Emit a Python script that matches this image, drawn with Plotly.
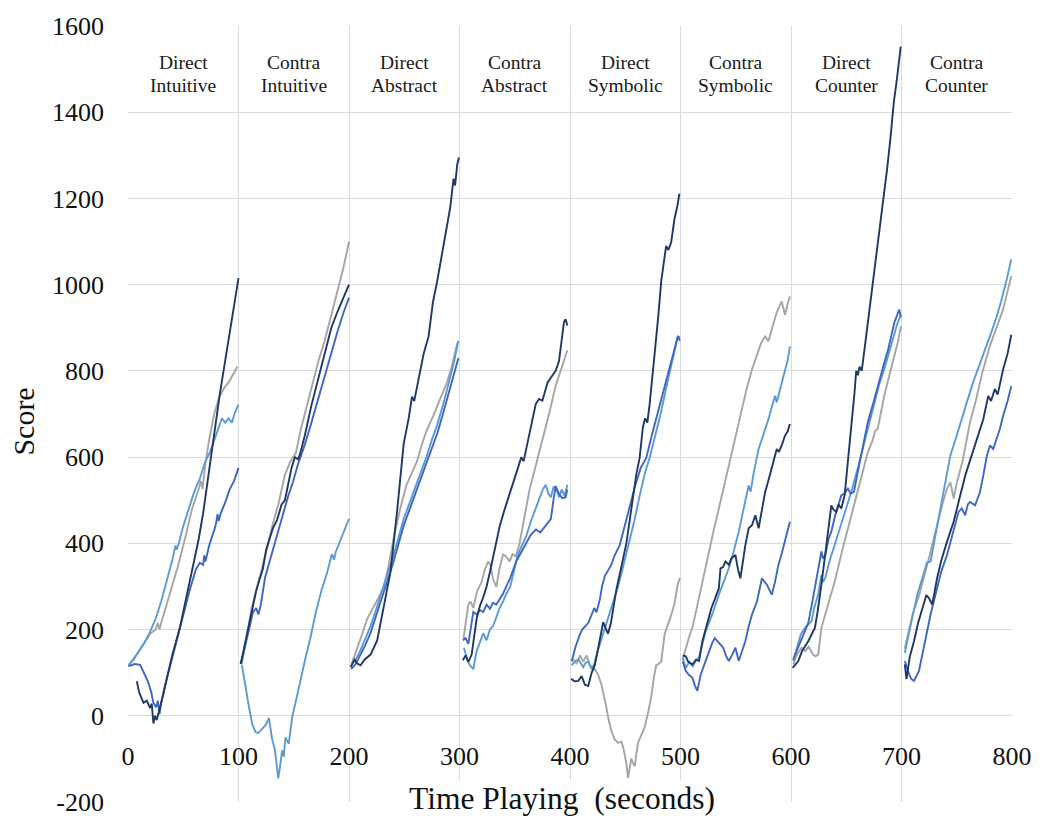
import plotly.graph_objects as go

# ---------------- data (time in seconds, score) ----------------
PANEL_TOP = ["Direct", "Contra", "Direct", "Contra", "Direct", "Contra", "Direct", "Contra"]
PANEL_BOTTOM = ["Intuitive", "Intuitive", "Abstract", "Abstract", "Symbolic", "Symbolic", "Counter", "Counter"]
X_TICKS = [0, 100, 200, 300, 400, 500, 600, 700, 800]
Y_TICKS = [-200, 0, 200, 400, 600, 800, 1000, 1200, 1400, 1600]

NAVY_T = [
    [8, 10, 14, 17, 20, 21.5, 23, 24.5, 26, 29, 32, 35, 40, 47, 53, 59, 64, 68, 72, 77, 80, 83, 87, 91, 95, 98, 100],
    [102, 106, 110, 113, 116, 119, 122, 125, 128, 131, 135, 139, 142, 145, 148, 151, 154, 156, 160, 166, 172, 178, 184, 190, 195, 200],
    [201.5, 205, 207.5, 210.5, 214, 219.5, 225.5, 231.5, 237.5, 243.5, 249.5, 254, 257, 259, 262, 267.5, 272, 276, 279.6, 285.6, 291.6, 294.6, 296, 298, 299.5],
    [303, 305.5, 308, 311, 315.5, 318.5, 321.5, 324.5, 327.5, 332, 336.5, 341, 345.4, 350, 354.3, 356, 358, 363.3, 369, 372, 375, 379.7, 384, 387, 390, 392.5, 394.6, 396, 397.6],
    [401, 404, 407.5, 410.5, 413.5, 416.5, 419.5, 422.5, 425, 428, 430, 432, 434.4, 437, 442, 446, 451, 455.5, 460, 463, 466, 468, 470, 472, 474.5, 476.6, 480, 482.6, 487, 489, 491.6, 494.6, 497, 499],
    [502, 504.8, 507, 510.8, 514, 516.8, 519.8, 524, 528, 531, 534.7, 536.2, 538.5, 540.7, 543.7, 546, 549.7, 552, 554.2, 558.7, 561.7, 564.7, 567.7, 570.7, 573.5, 576.6, 579.5, 582.6, 587.1, 589, 591.6, 594.6, 597, 599],
    [601.5, 604, 606.6, 610, 615.6, 621.6, 624, 627.5, 630.5, 633.5, 636.5, 638.5, 641, 643, 645.5, 648.5, 651.5, 654.5, 657.5, 659, 660.5, 662, 664, 667, 671, 675, 679, 683, 687, 690, 693, 696, 698, 699.3],
    [703, 704.5, 707.5, 711.3, 715, 720.3, 722.5, 724.8, 727.8, 732.2, 736, 741.2, 747.2, 753.1, 758, 763, 768, 774, 778.5, 781, 784.5, 787, 792, 796, 799.4],
]
NAVY_V = [
    [80, 55, 30, 35, 18, 28, -18, 0, -10, 19, 50, 85, 140, 205, 280, 347, 410, 470, 540, 629, 690, 745, 810, 880, 940, 985, 1015],
    [120, 170, 215, 250, 290, 316, 340, 385, 410, 434, 455, 490, 500, 540, 575, 600, 595, 610, 650, 720, 780, 840, 900, 940, 970, 1000],
    [113, 130, 121, 117, 130, 142, 175, 250, 333, 474, 631, 690, 740, 730, 770, 839, 880, 960, 1005, 1096, 1179, 1246, 1230, 1280, 1295],
    [129, 140, 125, 142, 225, 255, 275, 300, 333, 390, 441, 480, 515, 550, 582, 600, 590, 657, 723, 735, 731, 773, 789, 800, 822, 880, 914, 920, 905],
    [86, 80, 81, 92, 72, 69, 99, 118, 150, 190, 217, 205, 190, 215, 293, 340, 400, 480, 560, 598, 670, 690, 680, 721, 781, 840, 930, 1009, 1090, 1080, 1099, 1153, 1180, 1211],
    [140, 138, 125, 119, 130, 127, 173, 215, 250, 270, 296, 342, 345, 358, 350, 365, 373, 340, 319, 396, 435, 442, 465, 435, 480, 519, 545, 573, 619, 612, 627, 650, 660, 677],
    [111, 120, 127, 150, 173, 204, 240, 304, 370, 434, 488, 478, 473, 490, 481, 511, 588, 670, 750, 800, 790, 810, 800, 860, 940, 1017, 1100, 1190, 1269, 1340, 1422, 1480, 1530, 1552],
    [119, 85, 137, 173, 215, 265, 280, 273, 258, 319, 360, 404, 450, 511, 560, 600, 640, 688, 742, 730, 758, 745, 804, 840, 884],
]

MEDIUM_T = [
    [1, 6, 11, 15, 18, 21, 23, 25.5, 27, 28.5, 30, 33, 36, 41, 47, 52.5, 56, 61.5, 65, 68, 69, 70, 74, 78, 80, 81, 82, 84, 88, 92, 96, 100],
    [102, 106, 110, 113, 116, 118, 120, 124, 128, 132, 136, 140, 145, 149, 154, 160, 166, 172, 178, 184, 190, 195, 200],
    [202, 206, 210, 214, 219.5, 225, 230, 235, 240, 245, 249.5, 255, 260, 265, 270, 275, 280, 285, 290, 295, 299],
    [303, 305.5, 308, 310, 312.5, 315.5, 318.5, 321.5, 324.5, 327.5, 330.4, 333.4, 336.4, 339.4, 342.4, 346, 351.3, 356, 360.3, 364.5, 369.2, 373, 378, 382.7, 385, 387, 390, 393, 396, 397.6],
    [401.5, 405, 409, 411, 413.5, 416.5, 419.5, 422, 424, 427, 429, 431.5, 434, 437.5, 440, 445, 449.5, 454, 458.6, 464, 469, 474, 480, 486, 492, 497.6, 499.5],
    [502, 504.8, 507.5, 510.8, 513, 515.3, 518.3, 522.7, 526, 528.7, 531, 533.2, 536, 538.7, 541, 543.7, 546.5, 549.7, 552.7, 555.5, 558.7, 561.5, 564.7, 569.2, 573.7, 578.2, 582.6, 585.5, 588.6, 591.5, 594.6, 597, 599],
    [602, 605, 609.6, 612, 615.6, 619, 623, 625, 627.5, 629, 631, 634, 636.5, 640, 643, 645.5, 648, 651.5, 654, 657, 660, 665, 669.5, 675, 680, 684.4, 688, 693.4, 697.9, 699.5],
    [703, 706.9, 709, 711.3, 715.8, 720.3, 726.3, 732.2, 736, 741.2, 747.2, 751.6, 754.6, 757.6, 760, 762, 766.6, 771, 774, 777, 780, 783, 786, 789, 792, 796, 799.4],
]
MEDIUM_V = [
    [115, 120, 118, 95, 80, 55, 30, 20, 35, 4, 30, 65, 95, 150, 205, 265, 293, 340, 355, 350, 372, 358, 400, 430, 450, 468, 452, 470, 495, 525, 545, 575],
    [120, 160, 205, 240, 250, 235, 255, 320, 355, 395, 430, 465, 510, 540, 585, 629, 680, 735, 788, 840, 895, 935, 970],
    [108, 120, 140, 160, 192, 235, 275, 315, 355, 400, 441, 480, 515, 550, 585, 620, 656, 700, 745, 790, 830],
    [175, 180, 167, 200, 241, 235, 245, 241, 258, 248, 262, 258, 270, 283, 300, 320, 358, 380, 399, 420, 432, 425, 441, 457, 500, 532, 515, 505, 507, 525],
    [126, 160, 189, 200, 207, 215, 234, 250, 240, 270, 300, 324, 335, 351, 370, 396, 440, 485, 530, 575, 598, 650, 710, 770, 830, 880, 870],
    [126, 104, 95, 88, 70, 58, 96, 127, 150, 169, 180, 173, 165, 158, 140, 127, 140, 158, 127, 150, 173, 205, 235, 265, 319, 304, 281, 310, 350, 375, 404, 425, 450],
    [131, 150, 181, 195, 215, 260, 311, 345, 381, 365, 372, 410, 427, 465, 490, 511, 515, 527, 515, 520, 560, 620, 681, 730, 780, 819, 850, 911, 942, 925],
    [127, 96, 85, 81, 104, 158, 235, 296, 335, 373, 434, 473, 481, 465, 490, 496, 488, 519, 557, 600, 627, 619, 642, 665, 696, 730, 765],
]

LIGHT_T = [
    [0, 5, 10, 15, 20, 25, 30, 35, 40, 43, 44, 46, 50, 55, 60, 65, 70, 74, 78, 82, 85, 88, 91, 94, 97, 100],
    [103, 106, 109.5, 112.5, 115.5, 118, 121.5, 125, 127.5, 130.5, 133, 136, 138, 139.5, 141, 142.5, 145.5, 148.5, 152, 156, 160.5, 165, 170, 175, 180, 184.5, 186.5, 188, 192, 196, 200],
    [202, 206, 210, 214, 219.5, 225, 230, 234.5, 240, 245, 249.5, 255, 260, 264.5, 270, 275, 279.6, 285, 290, 295, 299],
    [304, 307, 309.5, 312.5, 315.5, 318.5, 321.5, 324.5, 327.5, 330.4, 333.4, 336.4, 339.4, 342.4, 346, 349, 352.8, 356.5, 360.3, 364.5, 369.2, 372, 375.2, 378, 380.5, 382.7, 385, 387, 390.1, 392.5, 395, 397.6],
    [401.5, 404, 407.5, 410, 412, 414, 416.5, 419.5, 422, 425, 430, 435, 440, 443.5, 448, 453, 458, 463, 468, 472, 477, 482, 487, 492, 497.6, 499.5],
    [502, 504.8, 508, 511, 514, 516.8, 522.7, 528.7, 534.7, 539, 543.7, 548, 553, 557.5, 561.7, 563.5, 566, 570.7, 575, 579.6, 583, 585.6, 587.1, 591, 594.6, 597, 599],
    [602, 606, 609, 613, 618.6, 621, 624.6, 627.5, 629, 631, 635, 639.5, 645, 650, 654.5, 660, 665, 669.5, 675, 680, 684.4, 690, 696.4, 699.5],
    [703, 706, 709, 714.3, 720.3, 723, 726.3, 730, 735.2, 740, 744.2, 750, 755, 759.1, 765, 770, 774, 780, 786, 790, 795, 799.4],
]
LIGHT_V = [
    [115, 130, 150, 170, 195, 225, 265, 310, 360, 395, 385, 400, 440, 480, 520, 550, 590, 610, 640, 665, 690, 680, 690, 680, 705, 722],
    [118, 70, 20, -20, -38, -40, -30, -20, -5, -55, -80, -145, -110, -80, -95, -50, -65, -4, 35, 85, 133, 180, 240, 290, 330, 375, 362, 380, 405, 430, 457],
    [121, 130, 150, 175, 208, 250, 290, 324, 370, 415, 457, 495, 530, 557, 600, 640, 673, 720, 770, 820, 870],
    [158, 130, 117, 108, 150, 170, 191, 175, 200, 208, 230, 250, 265, 283, 300, 330, 374, 395, 416, 450, 482, 505, 524, 536, 515, 507, 530, 532, 507, 525, 510, 536],
    [117, 125, 131, 120, 113, 122, 126, 108, 120, 150, 190, 230, 270, 300, 345, 396, 450, 510, 565, 598, 650, 700, 760, 820, 880, 878],
    [135, 111, 125, 115, 128, 135, 196, 235, 281, 310, 342, 380, 430, 485, 534, 520, 560, 619, 650, 688, 720, 742, 727, 765, 796, 825, 857],
    [127, 160, 190, 205, 219, 250, 281, 327, 310, 320, 360, 396, 440, 480, 519, 570, 620, 665, 720, 770, 804, 855, 911, 930],
    [146, 185, 219, 281, 335, 355, 358, 410, 481, 550, 604, 650, 695, 727, 775, 810, 834, 880, 925, 960, 1010, 1059],
]

GRAY_T = [
    [0, 10, 20, 25, 27, 28.5, 30, 37.5, 45, 52.5, 58, 64.5, 66, 67.5, 70, 73.5, 78, 82.5, 87, 91.5, 95, 99],
    [103, 108, 112, 117, 122, 127, 131, 136, 142, 147, 152, 156, 160, 166, 172, 178, 184, 190, 195, 200],
    [203, 208, 212, 216.5, 222, 227, 231.5, 236, 241, 246.5, 252, 256, 261.5, 266, 270, 276.6, 282, 288.6, 293, 298],
    [303.6, 306, 308, 310, 312.5, 316, 320, 323, 326, 328, 330.4, 333.4, 336, 339.4, 342, 345.4, 348, 351, 354.3, 358, 363.3, 369, 375.2, 381, 387, 392, 397.6],
    [403, 406, 409, 412, 415, 418, 422.5, 425.5, 428.5, 431, 433, 435, 437.5, 440.5, 443.5, 446.5, 448, 449.5, 451, 452.5, 454, 455.5, 457, 458.6, 460, 461.5, 464.5, 467.5, 470.5, 473.6, 476, 478, 480, 482.6, 485.6, 488.5, 491.6, 494.5, 497.6, 499.5],
    [502, 505, 508, 510.8, 515, 519.8, 525, 530, 534.7, 540, 545, 549.7, 555, 560, 564.7, 570, 573, 576.6, 579.6, 583, 587, 591.6, 594.6, 597, 599],
    [602, 605, 609.6, 613, 616, 620, 622, 624.6, 627.5, 632, 639.5, 647, 654.5, 662, 669.5, 674, 676, 678.4, 684.4, 689, 693.4, 697, 699.4],
    [703, 706, 710, 716.4, 721, 725.4, 730, 734.3, 738, 741, 744.2, 747.2, 750, 755.2, 762, 767.2, 773, 780, 786, 791.9, 796, 799.4],
]
GRAY_V = [
    [115, 150, 190, 200, 215, 200, 215, 280, 345, 420, 480, 530, 545, 526, 585, 641, 700, 739, 760, 775, 790, 810],
    [120, 190, 250, 300, 347, 400, 445, 490, 559, 590, 610, 660, 700, 760, 820, 870, 930, 990, 1040, 1100],
    [125, 160, 190, 225, 250, 275, 300, 350, 420, 482, 535, 560, 590, 630, 660, 698, 730, 773, 810, 864],
    [179, 220, 258, 265, 250, 290, 310, 340, 358, 350, 316, 299, 340, 374, 370, 358, 375, 370, 399, 450, 524, 580, 640, 700, 765, 805, 848],
    [131, 120, 140, 125, 140, 117, 108, 95, 72, 45, 18, -10, -36, -55, -63, -60, -72, -90, -110, -144, -120, -99, -110, -117, -90, -63, -45, -27, 5, 45, 90, 117, 120, 126, 189, 210, 234, 260, 306, 320],
    [131, 160, 185, 204, 255, 311, 370, 430, 481, 540, 595, 642, 700, 760, 804, 845, 865, 880, 869, 900, 935, 961, 930, 955, 973],
    [119, 140, 158, 150, 160, 142, 138, 142, 204, 245, 311, 390, 465, 540, 611, 640, 660, 665, 742, 790, 834, 870, 904],
    [156, 190, 235, 283, 325, 371, 420, 465, 500, 525, 542, 504, 540, 590, 681, 730, 795, 858, 900, 942, 985, 1020],
]

SERIES = [
    ("Gray", GRAY_T, GRAY_V, "#A5A5A5"),
    ("Light blue", LIGHT_T, LIGHT_V, "#5B9BD5"),
    ("Medium blue", MEDIUM_T, MEDIUM_V, "#3F66C3"),
    ("Navy", NAVY_T, NAVY_V, "#1F3864"),
]

FONT = "Liberation Serif, Times New Roman, serif"
GRID = "#D9DBE3"


def joined(panels):
    out = []
    for i, p in enumerate(panels):
        if i:
            out.append(None)
        out.extend(p)
    return out


fig = go.Figure()
for name, ts, vs, color in SERIES:
    fig.add_trace(go.Scatter(
        x=joined(ts), y=joined(vs), mode="lines", name=name,
        line=dict(color=color, width=1.9), connectgaps=False, showlegend=False,
    ))

# panel labels (two lines each)
for i, (top, bottom) in enumerate(zip(PANEL_TOP, PANEL_BOTTOM)):
    cx = (X_TICKS[i] + X_TICKS[i + 1]) / 2
    for word, shift in ((top, 11.5), (bottom, -11.5)):
        fig.add_annotation(
            x=cx, y=1488, xref="x", yref="y", yshift=shift,
            text=word, showarrow=False,
            font=dict(family=FONT, size=19.5, color="#1a1a1a"),
        )

# axis titles
fig.add_annotation(
    x=0.4905, y=0.004, xref="paper", yref="paper", text="Time Playing\u00a0 (seconds)",
    showarrow=False, xanchor="center", yanchor="middle", bgcolor="white", borderpad=0,
    font=dict(family=FONT, size=31.5, color="#111111"),
)
fig.add_annotation(
    x=-0.1178, y=0.49, xref="paper", yref="paper", text="Score", textangle=-90,
    showarrow=False, xanchor="center", yanchor="middle",
    font=dict(family=FONT, size=30, color="#111111"),
)

fig.update_layout(
    width=1044, height=829,
    margin=dict(l=128, r=25, t=23, b=20),
    paper_bgcolor="white", plot_bgcolor="white",
    xaxis=dict(
        range=[X_TICKS[0], X_TICKS[-1]], tickvals=X_TICKS, showgrid=True, gridcolor=GRID, gridwidth=1.3,
        zeroline=False, showline=False, anchor="free",
        position=(0 - Y_TICKS[0]) / (Y_TICKS[-1] - Y_TICKS[0]),
        ticks="", ticklabelstandoff=22, ticklabeloverflow="allow",
        tickfont=dict(family=FONT, size=26, color="#111111"),
    ),
    yaxis=dict(
        range=[Y_TICKS[0], Y_TICKS[-1]], tickvals=Y_TICKS, ticktext=[str(v) for v in Y_TICKS],
        showgrid=True, gridcolor=GRID, gridwidth=1.3,
        zeroline=False, showline=False, ticks="", ticklabelstandoff=23, ticklabeloverflow="allow",
        tickfont=dict(family=FONT, size=26, color="#111111"), domain=[0, 1],
    ),
)

# remove the default page margin so the figure fills the window exactly
fig.write_html(
    "out.html",
    config={"displayModeBar": False},
    post_script="document.body.style.margin='0';document.body.style.overflow='hidden';",
)
